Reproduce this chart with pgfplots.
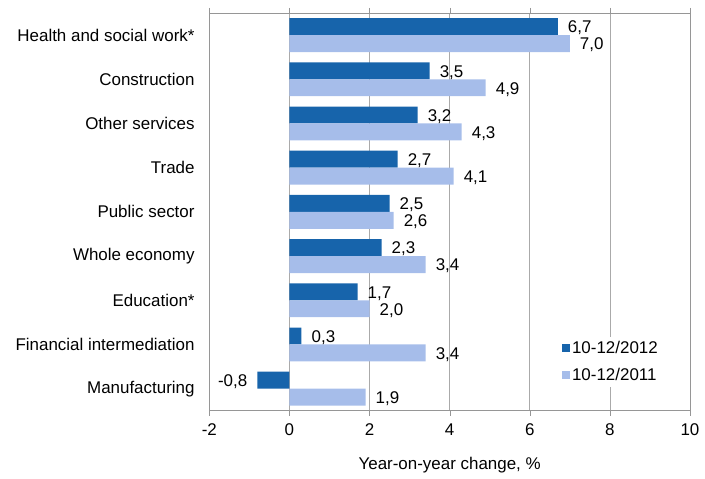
\documentclass[border=0pt]{standalone}
\usepackage{pgfplots}
\pgfplotsset{compat=1.18}
\usepackage{fontspec}
\setmainfont{Liberation Sans}
\definecolor{darkb}{RGB}{23,100,171}
\definecolor{lightb}{RGB}{166,189,234}
\definecolor{gridc}{RGB}{170,170,170}
\definecolor{framec}{RGB}{150,150,150}
\newcommand{\ff}{\fontsize{17bp}{19bp}\selectfont}
\begin{document}
\ff
\begin{tikzpicture}
\begin{axis}[
  scale only axis,
  width=482bp, height=399bp,
  xbar,
  bar width=17bp,
  xmin=-2, xmax=10,
  ymin=-0.5, ymax=8.5,
  xtick={-2,0,2,4,6,8,10},
  ytick={0,...,8},
  yticklabels={Manufacturing,Financial intermediation,Education*,Whole economy,Public sector,Trade,Other services,Construction,Health and social work*},
  major y tick style={draw=none},
  tick align=outside,
  major tick length=5bp,
  x tick style={draw=framec},
  xmajorgrids,
  grid style={draw=gridc, line width=0.6pt},
  axis line style={draw=framec, line width=0.8pt},
  every tick label/.append style={font=\ff},
  y tick label style={xshift=-4bp},
  x tick label style={yshift=-2bp},
  /pgf/number format/assume math mode=true,
  xlabel={Year-on-year change, \%},
  xlabel style={font=\ff, yshift=-10bp},
  nodes near coords,
  nodes near coords style={font=\ff, inner xsep=10bp, inner ysep=2bp, yshift=-1.5bp, /pgf/number format/.cd, use comma, fixed, fixed zerofill, precision=1},
  legend style={at={(1,0)}, anchor=south east, xshift=-28bp, yshift=24bp, draw=none, fill=white, font=\ff, row sep=8bp, inner sep=2bp},
  legend cell align=left,
  legend image code/.code={\fill[#1] (0bp,-4bp) rectangle (8bp,4bp);},
  clip=false,
]
\addplot[fill=darkb, draw=none, bar shift=8.5bp] coordinates {
 (-0.8,0) (0.3,1) (1.7,2) (2.3,3) (2.5,4) (2.7,5) (3.2,6) (3.5,7) (6.7,8)};
\addlegendentry{10-12/2012}
\addplot[fill=lightb, draw=none, bar shift=-8.5bp] coordinates {
 (1.9,0) (3.4,1) (2.0,2) (3.4,3) (2.6,4) (4.1,5) (4.3,6) (4.9,7) (7.0,8)};
\addlegendentry{10-12/2011}
\path (rel axis cs:0,0) ++(-210bp,-60bp);
\path (rel axis cs:1,1) ++(13bp,13bp);
\end{axis}
\end{tikzpicture}
\end{document}
